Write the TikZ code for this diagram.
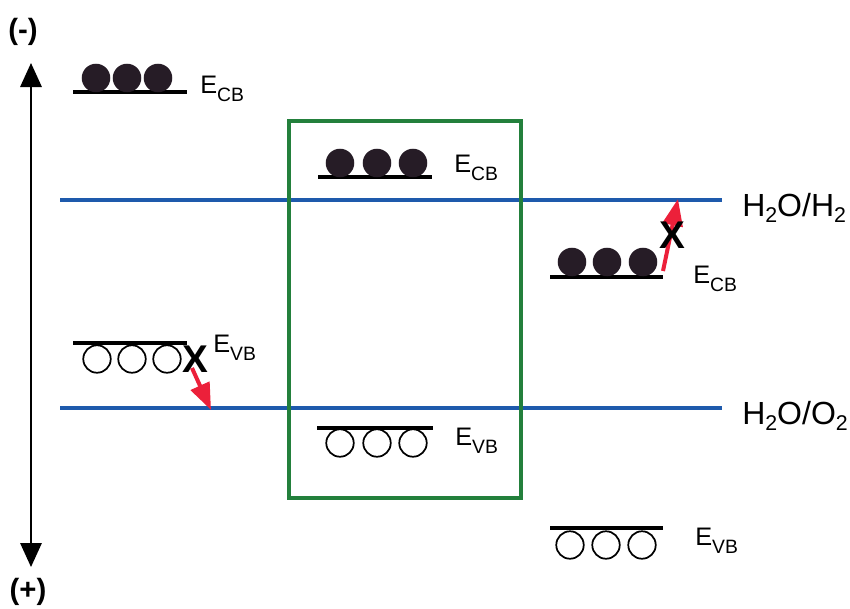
\documentclass[tikz,border=0pt]{standalone}
\usepackage{fontspec}
\setmainfont{Liberation Sans}
\usetikzlibrary{arrows.meta}
\definecolor{levelblue}{RGB}{30,90,172}
\definecolor{boxgreen}{RGB}{35,128,60}
\definecolor{arrowred}{RGB}{236,32,58}
\definecolor{ballfill}{RGB}{38,28,38}
% band-edge label: E with a lowered subscript
\newcommand\bandlabel[1]{{\fontsize{19}{19}\selectfont E}\raisebox{-6pt}{\fontsize{14.5}{14.5}\selectfont #1}}
\newcommand\lowtwo{\raisebox{-5pt}{\fontsize{16}{16}\selectfont 2}}
\newcommand\redox[1]{\fontsize{24}{24}\selectfont #1}
\begin{document}
\begin{tikzpicture}[x=0.75pt,y=-0.75pt,
  bandedge/.style={line width=3pt,black},
  electron/.style={fill=ballfill},
  hole/.style={draw=black,line width=1.3pt,fill=white},
  potline/.style={line width=3.5pt,levelblue},
  lbl/.style={anchor=base west,inner sep=0pt},
  transfer/.style={line width=3pt,arrowred,-{Triangle[length=20pt,width=15pt]}},
  blocked/.style={inner sep=0pt,font=\fontsize{29}{29}\selectfont\bfseries},
  sign/.style={inner sep=0pt,font=\fontsize{22}{22}\selectfont\bfseries}]
\useasboundingbox (0,0) rectangle (850,608);

% energy axis
\node[sign] (minus) at (23,32) {(-)};
\node[sign] (plus) at (28,592) {(+)};
\coordinate (axtop) at (31,63);
\coordinate (axbot) at (31,567);
\draw[line width=1.6pt,{Triangle[length=18pt,width=16pt]}-{Triangle[length=18pt,width=16pt]}] (axtop) -- (axbot);

% redox potentials of water
\draw[potline] (60,200) coordinate (hA) -- (722,200) coordinate (hB);
\draw[potline] (60,408) coordinate (oA) -- (722,408) coordinate (oB);
\node[lbl] (h2) at (742,216) {\redox{H\lowtwo O/H\lowtwo}};
\node[lbl] (o2) at (742,424) {\redox{H\lowtwo O/O\lowtwo}};

% middle semiconductor
\draw[boxgreen,line width=2.3pt] (289,121) rectangle (521,498);

% left semiconductor
\draw[bandedge] (73,92) -- (187,92);
\foreach \cx in {96,127,158} \fill[electron] (\cx,78) circle[radius=10.7pt];
\node[lbl] (lcb) at (200,93) {\bandlabel{CB}};
\draw[bandedge] (73,343) -- (187,343);
\foreach \cx in {97,132,167} \draw[hole] (\cx,359) circle[radius=10.3pt];
\node[lbl] (lvb) at (213,352) {\bandlabel{VB}};

% middle semiconductor levels
\draw[bandedge] (318,177) -- (432,177);
\foreach \cx in {340,377,413} \fill[electron] (\cx,163) circle[radius=10.7pt];
\node[lbl] (mcb) at (454,172) {\bandlabel{CB}};
\draw[bandedge] (317,428) -- (433,428);
\foreach \cx in {340,377,413} \draw[hole] (\cx,443) circle[radius=10.3pt];
\node[lbl] (mvb) at (455,445) {\bandlabel{VB}};

% right semiconductor
\draw[bandedge] (550,277) -- (663,277);
\foreach \cx in {572,607,643} \fill[electron] (\cx,262) circle[radius=10.7pt];
\node[lbl] (rcb) at (693,283) {\bandlabel{CB}};
\draw[bandedge] (550,528) -- (663,528);
\foreach \cx in {570,606,642} \draw[hole] (\cx,545) circle[radius=10.3pt];
\node[lbl] (rvb) at (695,545) {\bandlabel{VB}};

% forbidden transfers
\coordinate (ls) at (192,368);
\coordinate (le) at (211,410);
\draw[transfer] (ls) -- (le);
\node[blocked] (lx) at (195,359) {X};
\coordinate (rs) at (663,271);
\coordinate (re) at (678,199);
\draw[transfer] (rs) -- (re);
\node[blocked] (rx) at (672,235) {X};
\end{tikzpicture}
\end{document}
